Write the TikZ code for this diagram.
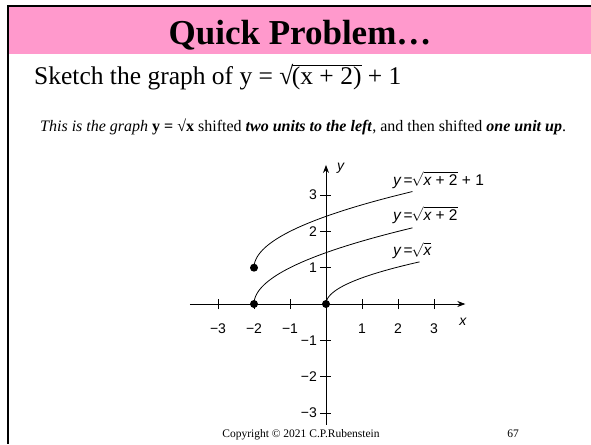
\documentclass[tikz,border=0pt]{standalone}
\usepackage{fontspec}
\setmainfont{Liberation Serif}
\newfontfamily\axisfont{Liberation Sans}
\usetikzlibrary{arrows.meta}
\definecolor{bandpink}{RGB}{255,153,204}
\begin{document}
\begin{tikzpicture}[x=1pt,y=-1pt,
  ticklab/.style={font=\axisfont\fontsize{14}{16}\selectfont, inner sep=0pt},
  curvelab/.style={font=\axisfont\fontsize{15.5}{18}\selectfont, inner sep=0pt, anchor=base west},
  curve/.style={line width=0.8pt},
  dot/.style={circle, fill=black, inner sep=0pt, minimum size=8pt},
  axis/.style={line width=0.8pt, -{Stealth[length=8pt,width=6pt]}}]
\useasboundingbox (0,0) rectangle (591,444);
\fill[white] (0,0) rectangle (591,444);
\fill[bandpink] (9,7) rectangle (591,54);
\draw[line width=2.2pt] (591,6) -- (8,6) -- (8,444);
\node[name=title, anchor=base, inner sep=0pt, font=\fontsize{35}{40}\selectfont\bfseries] at (300,45) {Quick Problem…};
\node[name=task, anchor=base west, inner sep=0pt, font=\fontsize{25.5}{30}\selectfont] at (34,84) {Sketch the graph of y = √\kern-0.06em$\overline{\mbox{(x + 2)}}$ + 1};
\node[name=expl, anchor=base west, inner sep=0pt, font=\fontsize{16}{19}\selectfont] at (40,131) {\textit{This is the graph} \textbf{y = √x} shifted \textbf{\textit{two units to the left}}, and then shifted \textbf{\textit{one unit up}}.};
\node[name=copy, anchor=base, inner sep=0pt, font=\fontsize{11.5}{13}\selectfont] at (301,437) {Copyright © 2021 C.P.Rubenstein};
\node[name=page, anchor=base, inner sep=0pt, font=\fontsize{11.5}{13}\selectfont] at (513,437) {67};
\begin{scope}[shift={(326pt,-304pt)}, x=36pt, y=36.3pt]
  \coordinate (xs) at (-3.78,0);
  \coordinate (xe) at (3.87,0);
  \coordinate (ys) at (0,-3.33);
  \coordinate (ye) at (0,3.83);
  \draw[axis] (xs) -- (xe);
  \draw[axis] (ys) -- (ye);
  \foreach \u/\t in {-3/{−3},-2/{−2},-1/{−1},1/1,2/2,3/3} {
    \draw[line width=0.8pt] (\u,-0.14) -- (\u,0.14);
    \node[ticklab, anchor=base, name=xl\u] at (\u,-0.82) {\t};
  }
  \foreach \v/\t in {-3/{−3},-2/{−2},-1/{−1},1/1,2/2,3/3} {
    \draw[line width=0.8pt] (-0.17,\v) -- (0.14,\v);
    \node[ticklab, anchor=east, name=yl\v] at (-0.25,\v) {\t};
  }
  \node[ticklab, anchor=base west, name=ylab] at (0.3,3.68) {\itshape y};
  \node[ticklab, anchor=base west, name=xlab] at (3.7,-0.6) {\itshape x};
  \draw[curve] plot[domain=0:2.098, samples=60, smooth] ({\x*\x-2},{\x+1});
  \draw[curve] plot[domain=0:2.098, samples=60, smooth] ({\x*\x-2},{\x});
  \draw[curve] plot[domain=0:1.612, samples=60, smooth] ({\x*\x},{0.72*\x});
  \node[dot, name=d1] at (-2,1) {};
  \node[dot, name=d2] at (-2,0) {};
  \node[dot, name=d3] at (0,0) {};
\end{scope}
\node[curvelab, name=l1] at (393,185) {\itshape y\upshape\,=\kern-1pt$\sqrt{\mbox{\itshape x\upshape\ + 2}}$ + 1};
\node[curvelab, name=l2] at (393,220) {\itshape y\upshape\,=\kern-1pt$\sqrt{\mbox{\itshape x\upshape\ + 2}}$};
\node[curvelab, name=l3] at (393,255) {\itshape y\upshape\,=\kern-1pt$\sqrt{\mbox{\itshape x}}$};
\end{tikzpicture}
\end{document}
